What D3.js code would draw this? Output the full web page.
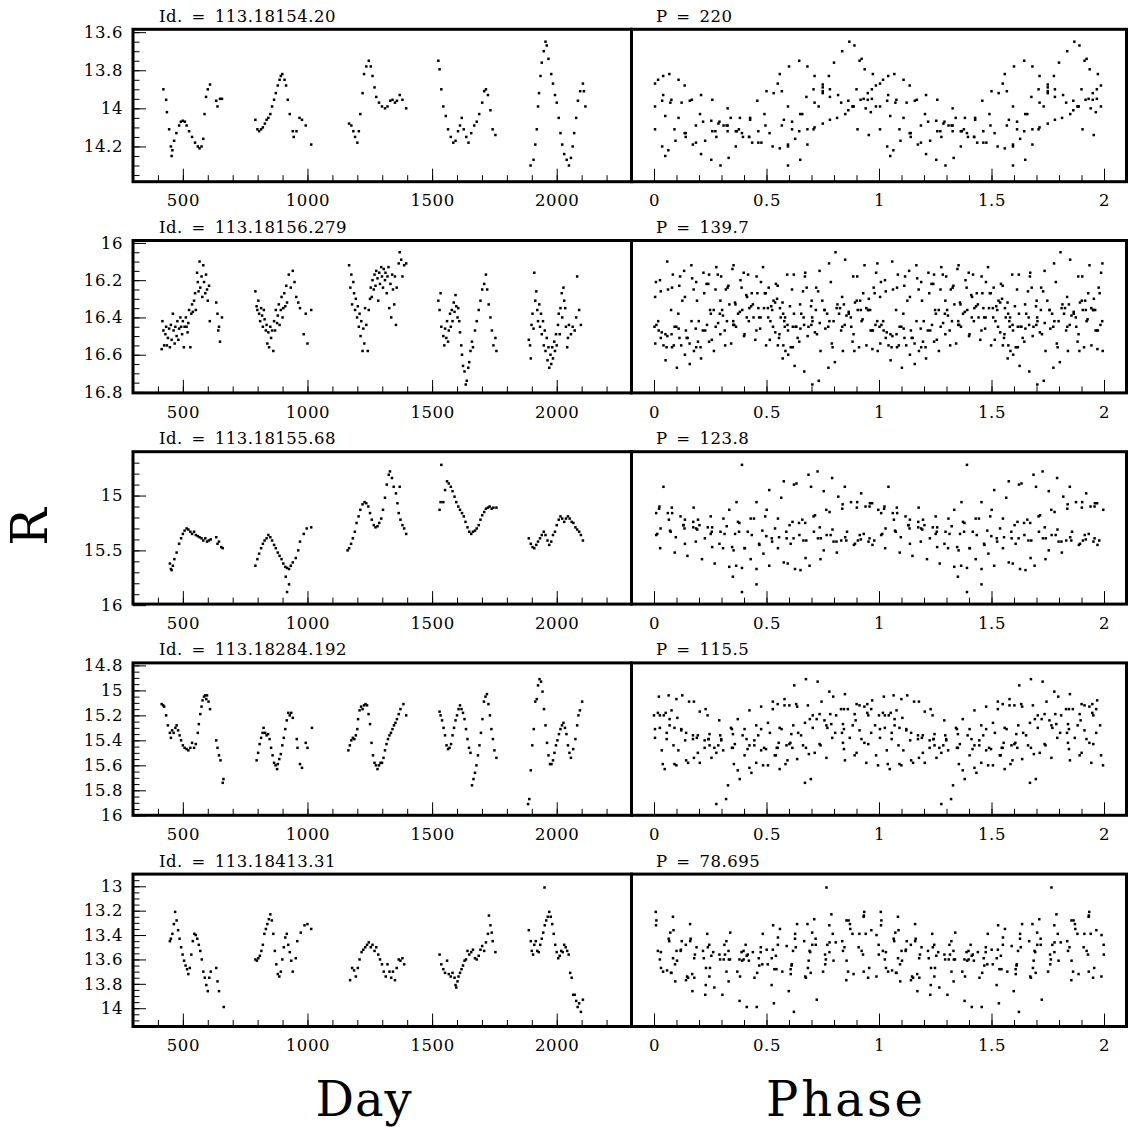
<!DOCTYPE html>
<html><head><meta charset="utf-8">
<script src="https://cdn.jsdelivr.net/npm/d3@7"></script>
<style>
body{margin:0;background:#fff}
text{font-family:"DejaVu Serif",serif;fill:#000}
</style>
</head><body>
<svg id="c" width="1128" height="1130"></svg>
<script>
// ---------------- DATA ----------------
const starIds = ["113.18154.20", "113.18156.279", "113.18155.68", "113.18284.192", "113.18413.31"];
const periods = [220, 139.7, 123.8, 115.5, 78.695];
const periodLabels = ["220", "139.7", "123.8", "115.5", "78.695"];
const epochs = [4, 0, 3, 5, 2];
const yDomains = [[13.585, 14.385], [15.987, 16.805], [14.60, 15.99], [14.78, 16.0], [12.90, 14.15]];
const yMajorTicks = [[13.6, 13.8, 14, 14.2], [16, 16.2, 16.4, 16.6, 16.8], [15, 15.5, 16], [14.8, 15, 15.2, 15.4, 15.6, 15.8, 16], [13, 13.2, 13.4, 13.6, 13.8, 14]];
const yMinorStep = [0.05, 0.05, 0.1, 0.05, 0.05];
const dayDomain = [300, 2300];
const dayMajorTicks = [500, 1000, 1500, 2000];
const phaseDomain = [-0.1, 2.1];
const phaseMajorTicks = [0, 0.5, 1, 1.5, 2];

// light curves: [day, R]
const lc1 = [
[422,13.90],[433,13.955],[436,14.02],[445,14.11],[452,14.20],[455,14.25],[458,14.22],[465,14.17],[474,14.13],[485,14.09],[492,14.07],[500,14.065],[508,14.07],[515,14.09],[525,14.12],[537,14.15],[549,14.18],[560,14.20],[567,14.21],[575,14.20],[582,14.16],[587,14.03],[593,13.94],[600,13.90],[609,13.875],[634,13.96],[639,13.99],[649,13.95],[657,13.95],
[791,14.06],[799,14.11],[806,14.12],[814,14.11],[821,14.10],[829,14.08],[836,14.06],[843,14.05],[851,14.03],[858,13.99],[866,13.955],[873,13.92],[881,13.88],[888,13.85],[893,13.83],[899,13.82],[908,13.85],[914,13.88],[921,13.955],[929,14.03],[941,14.12],[945,14.15],[956,14.12],[968,14.05],[978,14.06],[993,14.09],[1015,14.19],
[1167,14.08],[1176,14.09],[1184,14.12],[1191,14.15],[1200,14.18],[1206,14.12],[1212,14.03],[1221,13.92],[1227,13.82],[1236,13.78],[1246,13.75],[1254,13.78],[1261,13.83],[1269,13.89],[1276,13.94],[1287,13.97],[1299,13.99],[1311,14.0],[1321,13.99],[1332,13.96],[1341,13.955],[1351,13.97],[1359,13.96],[1370,13.93],[1381,13.955],[1396,14.0],
[1525,13.75],[1530,13.795],[1537,13.90],[1545,13.99],[1555,14.04],[1564,14.11],[1575,14.15],[1585,14.18],[1594,14.17],[1604,14.12],[1612,14.09],[1619,14.05],[1627,14.11],[1637,14.15],[1646,14.18],[1657,14.13],[1669,14.09],[1679,14.07],[1689,14.03],[1701,13.97],[1709,13.91],[1716,13.90],[1724,13.93],[1734,14.01],[1743,14.11],[1754,14.14],
[1895,14.30],[1907,14.27],[1914,14.19],[1920,14.11],[1925,13.99],[1929,13.92],[1935,13.83],[1940,13.76],[1948,13.70],[1955,13.65],[1960,13.67],[1967,13.74],[1978,13.82],[1985,13.87],[1993,13.93],[2000,13.97],[2008,14.05],[2015,14.13],[2022,14.19],[2030,14.24],[2040,14.27],[2049,14.30],[2057,14.26],[2064,14.20],[2070,14.13],[2078,14.05],[2085,13.96],[2094,13.91],[2105,13.87],[2109,13.91],[2115,13.99]
];
const lc2 = [
[415,16.57],[418,16.42],[422,16.47],[425,16.55],[430,16.49],[433,16.45],[436,16.55],[440,16.51],[445,16.46],[448,16.56],[452,16.44],[455,16.52],[460,16.38],[463,16.47],[467,16.54],[470,16.45],[475,16.50],[478,16.42],[482,16.52],[485,16.46],[490,16.40],[493,16.45],[497,16.49],[500,16.42],[504,16.56],[507,16.45],[512,16.40],[515,16.45],[519,16.48],[522,16.43],[525,16.36],[530,16.56],[534,16.38],[537,16.33],[540,16.37],[545,16.31],[549,16.27],[552,16.36],[557,16.16],[560,16.21],[563,16.26],[567,16.10],[570,16.24],[575,16.18],[578,16.29],[582,16.12],[585,16.21],[590,16.27],[593,16.17],[597,16.25],[600,16.31],[605,16.23],[608,16.42],[634,16.32],[639,16.38],[642,16.47],[645,16.45],[649,16.53],[657,16.40],
[791,16.26],[796,16.34],[799,16.36],[803,16.31],[806,16.38],[810,16.42],[814,16.35],[818,16.39],[821,16.45],[825,16.36],[828,16.41],[833,16.47],[836,16.44],[839,16.54],[843,16.48],[846,16.56],[851,16.45],[854,16.51],[858,16.47],[863,16.58],[866,16.42],[870,16.47],[873,16.36],[878,16.43],[881,16.39],[885,16.33],[888,16.44],[893,16.36],[896,16.29],[900,16.40],[903,16.35],[907,16.27],[911,16.34],[915,16.23],[918,16.32],[925,16.17],[933,16.24],[941,16.15],[948,16.21],[955,16.29],[963,16.32],[970,16.35],[985,16.49],[993,16.38],[1000,16.54],[1015,16.36],
[1167,16.12],[1172,16.24],[1176,16.17],[1179,16.33],[1184,16.21],[1187,16.27],[1191,16.36],[1194,16.30],[1199,16.40],[1202,16.34],[1206,16.45],[1209,16.38],[1213,16.50],[1216,16.42],[1221,16.58],[1224,16.46],[1228,16.54],[1231,16.35],[1236,16.44],[1242,16.58],[1246,16.36],[1251,16.30],[1254,16.24],[1258,16.29],[1261,16.20],[1266,16.25],[1269,16.17],[1273,16.23],[1276,16.15],[1281,16.19],[1284,16.31],[1288,16.16],[1291,16.22],[1296,16.13],[1299,16.18],[1303,16.24],[1306,16.14],[1311,16.20],[1313,16.16],[1318,16.27],[1321,16.18],[1325,16.13],[1328,16.35],[1333,16.22],[1336,16.40],[1340,16.17],[1343,16.25],[1348,16.33],[1351,16.18],[1355,16.44],[1358,16.24],[1366,16.11],[1370,16.05],[1376,16.09],[1381,16.18],[1388,16.12],[1396,16.11],
[1525,16.31],[1530,16.36],[1534,16.27],[1537,16.45],[1545,16.50],[1549,16.55],[1552,16.46],[1557,16.51],[1560,16.42],[1564,16.53],[1567,16.47],[1572,16.38],[1575,16.45],[1579,16.36],[1582,16.42],[1587,16.32],[1590,16.37],[1594,16.28],[1597,16.34],[1602,16.40],[1605,16.35],[1609,16.42],[1612,16.48],[1617,16.55],[1620,16.60],[1624,16.66],[1630,16.69],[1635,16.76],[1639,16.74],[1645,16.67],[1649,16.64],[1654,16.58],[1660,16.53],[1664,16.56],[1672,16.47],[1679,16.42],[1687,16.36],[1694,16.31],[1701,16.25],[1709,16.22],[1716,16.17],[1721,16.25],[1727,16.33],[1734,16.40],[1740,16.47],[1746,16.55],[1754,16.51],[1758,16.58],
[1888,16.52],[1893,16.55],[1896,16.62],[1899,16.44],[1903,16.38],[1907,16.46],[1910,16.16],[1914,16.31],[1918,16.26],[1922,16.36],[1925,16.42],[1930,16.33],[1933,16.45],[1937,16.38],[1940,16.49],[1945,16.42],[1948,16.55],[1952,16.47],[1955,16.58],[1960,16.51],[1963,16.63],[1967,16.56],[1970,16.67],[1975,16.60],[1978,16.65],[1982,16.56],[1985,16.62],[1990,16.53],[1993,16.58],[1997,16.49],[2000,16.55],[2005,16.44],[2008,16.38],[2012,16.49],[2015,16.35],[2020,16.27],[2022,16.40],[2027,16.24],[2030,16.31],[2034,16.35],[2037,16.45],[2042,16.56],[2045,16.51],[2049,16.44],[2057,16.49],[2064,16.45],[2072,16.47],[2078,16.40],[2082,16.18],[2090,16.36],[2097,16.44]
];
const lc3 = [
[448,15.62],[452,15.67],[455,15.68],[460,15.64],[466,15.58],[475,15.52],[485,15.44],[493,15.39],[500,15.35],[507,15.32],[515,15.30],[522,15.31],[530,15.33],[537,15.35],[545,15.33],[552,15.36],[560,15.37],[567,15.38],[575,15.39],[582,15.41],[590,15.39],[597,15.42],[604,15.41],[612,15.40],[634,15.38],[639,15.44],[645,15.42],[654,15.47],[660,15.48],
[791,15.64],[799,15.58],[806,15.53],[814,15.48],[821,15.44],[828,15.41],[836,15.39],[843,15.36],[851,15.38],[858,15.41],[866,15.45],[873,15.48],[881,15.52],[888,15.55],[896,15.58],[903,15.62],[911,15.65],[913,15.74],[918,15.66],[918,15.88],[926,15.67],[926,15.81],[933,15.64],[941,15.61],[953,15.57],[963,15.50],[970,15.42],[985,15.35],[997,15.30],[1015,15.29],
[1161,15.50],[1167,15.48],[1175,15.44],[1182,15.39],[1190,15.33],[1197,15.25],[1205,15.19],[1212,15.13],[1221,15.08],[1229,15.06],[1236,15.07],[1244,15.10],[1251,15.16],[1258,15.22],[1266,15.27],[1273,15.29],[1281,15.28],[1288,15.25],[1296,15.21],[1303,15.13],[1311,15.02],[1318,14.90],[1326,14.81],[1331,14.78],[1339,14.84],[1346,14.92],[1355,14.98],[1361,15.07],[1366,15.16],[1370,14.92],[1373,15.22],[1381,15.27],[1388,15.30],[1396,15.35],
[1530,15.13],[1534,15.06],[1537,14.72],[1545,15.06],[1552,14.95],[1560,14.87],[1567,14.89],[1575,14.92],[1582,14.96],[1590,15.01],[1597,15.06],[1605,15.10],[1612,15.13],[1620,15.16],[1627,15.19],[1634,15.24],[1642,15.29],[1649,15.33],[1657,15.35],[1664,15.33],[1672,15.32],[1679,15.30],[1687,15.27],[1694,15.22],[1701,15.18],[1709,15.15],[1716,15.12],[1724,15.11],[1731,15.10],[1739,15.12],[1746,15.11],[1758,15.11],
[1888,15.39],[1896,15.44],[1903,15.47],[1910,15.48],[1918,15.45],[1925,15.42],[1933,15.39],[1940,15.36],[1948,15.33],[1955,15.36],[1963,15.41],[1970,15.45],[1978,15.42],[1985,15.36],[1993,15.33],[2000,15.27],[2008,15.22],[2015,15.19],[2022,15.21],[2030,15.24],[2037,15.21],[2045,15.19],[2052,15.21],[2060,15.24],[2067,15.25],[2075,15.29],[2082,15.31],[2090,15.33],[2097,15.36],[2105,15.41]
];
const lc4 = [
[415,15.11],[421,15.12],[425,15.13],[433,15.20],[440,15.28],[448,15.34],[452,15.38],[457,15.32],[463,15.34],[470,15.30],[475,15.28],[481,15.32],[487,15.36],[493,15.40],[500,15.44],[507,15.46],[515,15.47],[522,15.48],[530,15.46],[537,15.42],[545,15.46],[552,15.43],[560,15.34],[564,15.27],[570,15.19],[575,15.13],[579,15.08],[585,15.05],[590,15.04],[594,15.07],[597,15.04],[603,15.09],[609,15.15],[634,15.40],[639,15.46],[645,15.52],[651,15.56],[660,15.74],[663,15.71],
[796,15.56],[802,15.50],[808,15.43],[814,15.38],[820,15.34],[824,15.30],[830,15.34],[836,15.36],[842,15.35],[848,15.39],[854,15.46],[860,15.52],[866,15.58],[872,15.60],[878,15.63],[881,15.59],[887,15.55],[893,15.51],[899,15.44],[905,15.38],[911,15.31],[917,15.24],[923,15.18],[929,15.20],[935,15.18],[941,15.22],[957,15.39],[960,15.46],[970,15.59],[978,15.62],[993,15.42],[1000,15.46],[1018,15.30],
[1164,15.48],[1170,15.44],[1176,15.40],[1182,15.38],[1188,15.39],[1194,15.36],[1200,15.31],[1203,15.23],[1209,15.16],[1215,15.13],[1221,15.15],[1227,15.12],[1233,15.11],[1239,15.12],[1245,15.19],[1251,15.27],[1257,15.42],[1263,15.52],[1269,15.58],[1275,15.60],[1281,15.63],[1287,15.60],[1293,15.58],[1299,15.58],[1305,15.54],[1311,15.48],[1317,15.43],[1323,15.39],[1329,15.36],[1335,15.34],[1341,15.31],[1347,15.28],[1353,15.26],[1359,15.23],[1366,15.19],[1373,15.15],[1385,15.11],[1396,15.20],
[1530,15.17],[1534,15.20],[1540,15.24],[1546,15.30],[1552,15.36],[1558,15.44],[1564,15.47],[1570,15.46],[1576,15.43],[1582,15.36],[1588,15.30],[1594,15.24],[1600,15.20],[1606,15.15],[1612,15.12],[1618,15.15],[1624,15.18],[1630,15.23],[1636,15.31],[1642,15.39],[1648,15.46],[1654,15.50],[1660,15.76],[1666,15.71],[1672,15.66],[1678,15.60],[1684,15.52],[1690,15.44],[1696,15.34],[1702,15.23],[1708,15.09],[1714,15.05],[1720,15.03],[1726,15.11],[1732,15.20],[1738,15.31],[1744,15.39],[1750,15.48],[1758,15.54],
[1885,15.91],[1890,15.87],[1896,15.64],[1902,15.44],[1908,15.31],[1914,15.09],[1920,15.07],[1925,14.96],[1931,14.91],[1937,14.93],[1943,15.01],[1949,15.15],[1955,15.28],[1961,15.42],[1967,15.52],[1973,15.59],[1979,15.59],[1985,15.56],[1991,15.50],[1997,15.44],[2003,15.40],[2009,15.35],[2015,15.31],[2021,15.28],[2027,15.26],[2033,15.30],[2039,15.35],[2045,15.44],[2051,15.50],[2057,15.54],[2066,15.47],[2075,15.39],[2082,15.28],[2087,15.20],[2093,15.16],[2102,15.09]
];
const lc5 = [
[448,13.45],[452,13.43],[458,13.39],[464,13.31],[469,13.21],[475,13.28],[481,13.36],[487,13.43],[493,13.50],[499,13.56],[505,13.61],[511,13.65],[517,13.68],[522,13.72],[528,13.67],[534,13.56],[540,13.45],[546,13.39],[552,13.40],[558,13.43],[564,13.48],[570,13.53],[576,13.60],[582,13.70],[588,13.75],[594,13.81],[600,13.86],[606,13.75],[612,13.70],[634,13.67],[639,13.78],[645,13.86],[664,13.99],
[791,13.60],[797,13.61],[803,13.59],[809,13.57],[815,13.53],[821,13.48],[827,13.39],[833,13.35],[839,13.31],[845,13.27],[851,13.23],[857,13.28],[863,13.39],[869,13.53],[875,13.64],[881,13.72],[887,13.74],[893,13.70],[899,13.60],[905,13.50],[911,13.42],[917,13.39],[923,13.48],[929,13.54],[935,13.61],[941,13.70],[953,13.59],[959,13.45],[973,13.38],[988,13.32],[1000,13.31],[1015,13.35],
[1171,13.77],[1179,13.67],[1187,13.69],[1194,13.74],[1202,13.67],[1209,13.60],[1217,13.54],[1224,13.52],[1232,13.50],[1239,13.48],[1246,13.46],[1254,13.50],[1261,13.48],[1269,13.53],[1276,13.50],[1284,13.56],[1291,13.60],[1299,13.64],[1306,13.70],[1314,13.74],[1321,13.64],[1329,13.70],[1336,13.75],[1343,13.70],[1351,13.77],[1358,13.67],[1366,13.60],[1373,13.61],[1381,13.59],[1388,13.64],
[1530,13.56],[1537,13.64],[1545,13.68],[1552,13.71],[1560,13.61],[1567,13.72],[1575,13.74],[1582,13.71],[1590,13.75],[1594,13.81],[1597,13.83],[1602,13.78],[1606,13.74],[1612,13.71],[1618,13.68],[1624,13.65],[1630,13.61],[1636,13.60],[1642,13.53],[1649,13.56],[1657,13.54],[1664,13.52],[1672,13.59],[1679,13.60],[1687,13.57],[1694,13.52],[1701,13.49],[1709,13.53],[1716,13.46],[1724,13.39],[1728,13.24],[1734,13.32],[1739,13.38],[1743,13.45],[1754,13.54],
[1888,13.36],[1896,13.45],[1900,13.53],[1905,13.56],[1910,13.48],[1916,13.45],[1922,13.53],[1928,13.54],[1934,13.48],[1940,13.43],[1946,13.38],[1951,13.01],[1952,13.32],[1958,13.28],[1964,13.25],[1970,13.21],[1976,13.25],[1982,13.31],[1988,13.39],[1994,13.48],[2000,13.54],[2006,13.59],[2012,13.57],[2018,13.53],[2024,13.54],[2030,13.48],[2036,13.50],[2042,13.53],[2048,13.56],[2054,13.71],[2060,13.75],[2066,13.89],[2072,13.89],[2078,13.94],[2084,13.99],[2090,13.96],[2097,14.03],[2105,13.93]
];
const curves = [lc1, lc2, lc3, lc4, lc5];

// ---------------- DRAW ----------------
const svg = d3.select("#c");
const L0 = 133, DIV = 631.5, R1 = 1126.5, TOP0 = 29.3, PSTEP = 211.2, PH = 152.4;
const xDay = d3.scaleLinear().domain(dayDomain).range([L0, DIV]);
const xPh = d3.scaleLinear().domain(phaseDomain).range([DIV, R1]);
const fmt = d => String(+(+d).toFixed(3));
const stepTicks = (a, b, s) => { const lo = Math.min(a, b), hi = Math.max(a, b); const out = []; for (let k = Math.ceil(lo / s - 1e-6); k * s <= hi + 1e-9; k++) out.push(+(k * s).toFixed(4)); return out; };
const DOT = 2.5;
const TF = 16.5;

function styleAxis(g) {
  g.select(".domain").remove();
  g.attr("font-size", null).attr("font-family", null);
  g.selectAll(".tick line").attr("stroke", "#000").attr("stroke-width", 1);
  g.selectAll(".tick text").style("font-family", "'DejaVu Serif', serif").style("font-size", TF + "px")
    .attr("letter-spacing", "0.6px").attr("fill", "#000");
}

curves.forEach((lc, i) => {
  const top = TOP0 + i * PSTEP, bot = top + PH;
  const y = d3.scaleLinear().domain(yDomains[i]).range([top, bot]);
  const g = svg.append("g");

  // left: light curve
  g.append("g").selectAll("rect").data(lc).join("rect")
    .attr("x", d => xDay(d[0]) - DOT / 2).attr("y", d => y(d[1]) - DOT / 2)
    .attr("width", DOT).attr("height", DOT).attr("fill", "#000");

  // right: folded
  const folded = [];
  lc.forEach(d => {
    const ph = ((((d[0] - epochs[i]) / periods[i]) % 1) + 1) % 1;
    folded.push([ph, d[1]], [ph + 1, d[1]]);
  });
  g.append("g").selectAll("rect").data(folded).join("rect")
    .attr("x", d => xPh(d[0]) - DOT / 2).attr("y", d => y(d[1]) - DOT / 2)
    .attr("width", DOT).attr("height", DOT).attr("fill", "#000");

  // y axis (left)
  const yMin = stepTicks(yDomains[i][0], yDomains[i][1], yMinorStep[i]);
  g.append("g").attr("transform", `translate(${L0},0)`)
    .call(d3.axisLeft(y).tickValues(yMin).tickSize(-6.5).tickFormat(""))
    .call(styleAxis);
  g.append("g").attr("transform", `translate(${L0},0)`)
    .call(d3.axisLeft(y).tickValues(yMajorTicks[i]).tickSize(-13).tickPadding(10).tickFormat(fmt))
    .call(styleAxis);

  // bottom day axis
  g.append("g").attr("transform", `translate(0,${bot})`)
    .call(d3.axisBottom(xDay).tickValues(stepTicks(dayDomain[0], dayDomain[1], 100)).tickSize(-6.5).tickFormat(""))
    .call(styleAxis);
  g.append("g").attr("transform", `translate(0,${bot})`)
    .call(d3.axisBottom(xDay).tickValues(dayMajorTicks).tickSize(-13).tickPadding(13).tickFormat(fmt))
    .call(styleAxis);

  // bottom phase axis
  g.append("g").attr("transform", `translate(0,${bot})`)
    .call(d3.axisBottom(xPh).tickValues(stepTicks(phaseDomain[0], phaseDomain[1], 0.1)).tickSize(-6.5).tickFormat(""))
    .call(styleAxis);
  g.append("g").attr("transform", `translate(0,${bot})`)
    .call(d3.axisBottom(xPh).tickValues(phaseMajorTicks).tickSize(-13).tickPadding(13).tickFormat(fmt))
    .call(styleAxis);

  // frames
  g.append("rect").attr("x", L0).attr("y", top).attr("width", DIV - L0).attr("height", PH)
    .attr("fill", "none").attr("stroke", "#000").attr("stroke-width", 3);
  g.append("rect").attr("x", DIV).attr("y", top).attr("width", R1 - DIV).attr("height", PH)
    .attr("fill", "none").attr("stroke", "#000").attr("stroke-width", 3);

  // titles
  g.append("text").attr("x", 159).attr("y", top - 7.6).style("font-size", "16.5px")
    .attr("letter-spacing", "0.5px").attr("word-spacing", "3px")
    .text(`Id. = ${starIds[i]}`);
  g.append("text").attr("x", 656).attr("y", top - 7.6).style("font-size", "16.5px")
    .attr("letter-spacing", "0.5px").attr("word-spacing", "3px")
    .text(`P = ${periodLabels[i]}`);
});

// axis titles
svg.append("text").attr("transform", "translate(47,527) rotate(-90)").attr("text-anchor", "middle")
  .style("font-size", "50px").text("R");
svg.append("text").attr("x", 364).attr("y", 1116).attr("text-anchor", "middle")
  .style("font-size", "48px").attr("letter-spacing", "1px").text("Day");
svg.append("text").attr("x", 846).attr("y", 1116).attr("text-anchor", "middle")
  .style("font-size", "48px").attr("letter-spacing", "3px").text("Phase");
</script>
</body></html>
